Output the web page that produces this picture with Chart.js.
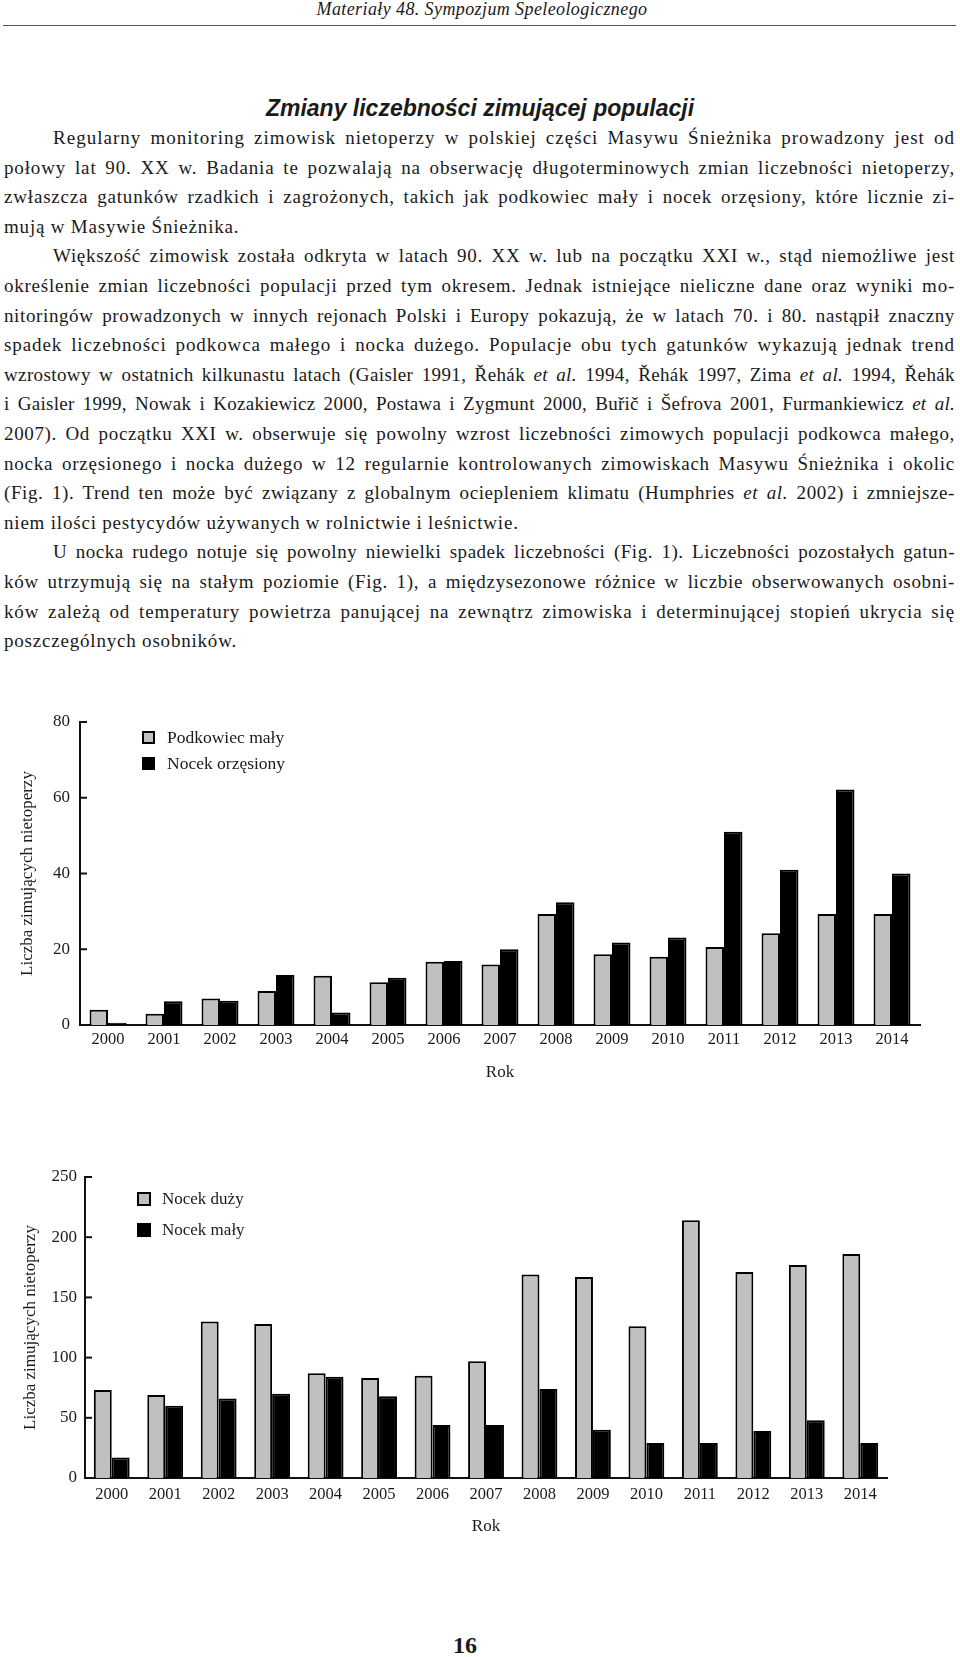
<!DOCTYPE html>
<html lang="pl">
<head>
<meta charset="utf-8">
<title>Zmiany liczebności zimującej populacji</title>
<script src="https://cdn.jsdelivr.net/npm/chart.js@4.4.0/dist/chart.umd.min.js"></script>
<style>
    body {
        margin: 0;
        width: 960px;
        height: 1657px;
        position: relative;
        overflow: hidden;
        background: #fff;
        color: #1a1a1a;
        font-family: "Liberation Serif", "DejaVu Serif", serif;
    }
    .naglowek {
        position: absolute; left: 0; top: 0; width: 964px;
        text-align: center; font-style: italic; font-size: 18px; line-height: 18px;
        letter-spacing: 0.4px;
    }
    .linia {
        position: absolute; left: 3px; top: 25px; width: 953px;
        border-top: 1.5px solid #555;
    }
    .tytul {
        position: absolute; left: 0; top: 94px; width: 960px;
        text-align: center; font-family: "Liberation Sans", Arial, sans-serif;
        font-weight: bold; font-style: italic; font-size: 23px; line-height: 28px;
    }
    .tekst {
        position: absolute; left: 4px; top: 123px; width: 951px;
        font-size: 19px; line-height: 29.6px; letter-spacing: 0.8px;
    }
    .tekst div { text-align: justify; text-align-last: justify; height: 29.6px; }
    .tekst div.wc { text-indent: 49px; }
    .tekst div.ost { text-align-last: left; }
    .wykres { position: absolute; left: 0; width: 960px; }
    .strona {
        position: absolute; left: 0; top: 1632px; width: 930px;
        text-align: center; font-weight: bold; font-size: 24px; line-height: 26px;
    }
</style>
</head>
<body>
<div class="naglowek">Materiały 48. Sympozjum Speleologicznego</div>
<div class="linia"></div>
<div class="tytul">Zmiany liczebności zimującej populacji</div>

<div class="tekst">
    <div class="wc">Regularny monitoring zimowisk nietoperzy w polskiej części Masywu Śnieżnika prowadzony jest od</div>
    <div>połowy lat 90. XX w. Badania te pozwalają na obserwację długoterminowych zmian liczebności nietoperzy,</div>
    <div>zwłaszcza gatunków rzadkich i zagrożonych, takich jak podkowiec mały i nocek orzęsiony, które licznie zi-</div>
    <div class="ost">mują w Masywie Śnieżnika.</div>
    <div class="wc">Większość zimowisk została odkryta w latach 90. XX w. lub na początku XXI w., stąd niemożliwe jest</div>
    <div>określenie zmian liczebności populacji przed tym okresem. Jednak istniejące nieliczne dane oraz wyniki mo-</div>
    <div>nitoringów prowadzonych w innych rejonach Polski i Europy pokazują, że w latach 70. i 80. nastąpił znaczny</div>
    <div>spadek liczebności podkowca małego i nocka dużego. Populacje obu tych gatunków wykazują jednak trend</div>
    <div>wzrostowy w ostatnich kilkunastu latach (Gaisler 1991, Řehák <i>et al.</i> 1994, Řehák 1997, Zima <i>et al.</i> 1994, Řehák</div>
    <div>i Gaisler 1999, Nowak i Kozakiewicz 2000, Postawa i Zygmunt 2000, Buřič i Šefrova 2001, Furmankiewicz <i>et al.</i></div>
    <div>2007). Od początku XXI w. obserwuje się powolny wzrost liczebności zimowych populacji podkowca małego,</div>
    <div>nocka orzęsionego i nocka dużego w 12 regularnie kontrolowanych zimowiskach Masywu Śnieżnika i okolic</div>
    <div>(Fig. 1). Trend ten może być związany z globalnym ociepleniem klimatu (Humphries <i>et al.</i> 2002) i zmniejsze-</div>
    <div class="ost">niem ilości pestycydów używanych w rolnictwie i leśnictwie.</div>
    <div class="wc">U nocka rudego notuje się powolny niewielki spadek liczebności (Fig. 1). Liczebności pozostałych gatun-</div>
    <div>ków utrzymują się na stałym poziomie (Fig. 1), a międzysezonowe różnice w liczbie obserwowanych osobni-</div>
    <div>ków zależą od temperatury powietrza panującej na zewnątrz zimowiska i determinującej stopień ukrycia się</div>
    <div class="ost">poszczególnych osobników.</div>
</div>

<div class="wykres" style="top:690px;height:410px;"><canvas id="wykres1"></canvas></div>
<div class="wykres" style="top:1150px;height:390px;"><canvas id="wykres2"></canvas></div>

<div class="strona">16</div>

<script>
const lata = ['2000', '2001', '2002', '2003', '2004', '2005', '2006', '2007',
    '2008', '2009', '2010', '2011', '2012', '2013', '2014'];

const podkowiecMaly = [4, 3, 7, 9, 13, 11.3, 16.7, 16, 29.3, 18.7, 18, 20.6, 24.2, 29.3, 29.3];
const nocekOrzesiony = [0.6, 6.3, 6.4, 13.2, 3.3, 12.5, 16.9, 20, 32.4, 21.8, 23.1, 51, 41, 62.2, 40];

const nocekDuzy = [73, 69, 130, 128, 87, 83, 85, 97, 169, 167, 126, 214, 171, 177, 186];
const nocekMaly = [17, 60, 66, 70, 84, 68, 44, 44, 74, 40, 29, 29, 39, 48, 29];

const ticksWykres1 = [0, 20, 40, 60, 80];
const ticksWykres2 = [0, 50, 100, 150, 200, 250];

const SZARY = '#c0c0c0';
const CZARNY = '#000000';
const FONT = '"Liberation Serif", "DejaVu Serif", serif';

// rozstrzelenie liter w wierszach, zeby odstepy miedzy wyrazami byly jak w druku
function dopasujWiersze() {
    document.querySelectorAll('.tekst div').forEach(div => {
        if (div.classList.contains('ost')) return;
        let span = div.querySelector(':scope > span.wiersz');
        if (!span) {
            span = document.createElement('span');
            span.className = 'wiersz';
            while (div.firstChild) span.appendChild(div.firstChild);
            div.appendChild(span);
        }
        // pomiar bez justowania
        div.style.textAlign = 'left';
        div.style.textAlignLast = 'left';
        div.style.letterSpacing = '0px';
        span.style.whiteSpace = 'nowrap';
        const szer = span.getBoundingClientRect().width;
        const tekst = span.textContent;
        const spacje = (tekst.match(/ /g) || []).length;
        const dostepne = 951 - (div.classList.contains('wc') ? 49 : 0) - 3;
        let ls = (dostepne - szer - spacje * 3) / tekst.length;
        ls = Math.max(0, Math.min(1.5, ls));
        span.style.whiteSpace = '';
        div.style.textAlign = '';
        div.style.textAlignLast = '';
        div.style.letterSpacing = ls.toFixed(2) + 'px';
    });
}
dopasujWiersze();
// drugi przebieg po zaladowaniu fontow
document.fonts.load('19px "Liberation Serif"')
    .then(() => document.fonts.load('italic 19px "Liberation Serif"'))
    .then(() => document.fonts.ready)
    .then(dopasujWiersze);

// kreski podzialki skierowane do wnetrza wykresu
const kreskiOsi = {
    id: 'kreskiOsi',
    afterDraw(chart) {
        const y = chart.scales.y;
        const ctx = chart.ctx;
        ctx.save();
        ctx.strokeStyle = '#111';
        ctx.lineWidth = 2;
        y.ticks.forEach(t => {
            const py = y.getPixelForValue(t.value);
            ctx.beginPath();
            ctx.moveTo(y.right, py);
            ctx.lineTo(y.right + 7, py);
            ctx.stroke();
        });
        ctx.restore();
    }
};

// legenda wewnatrz obszaru wykresu
const legendaWykresu = {
    id: 'legendaWykresu',
    afterDraw(chart, args, opts) {
        const ctx = chart.ctx;
        const area = chart.chartArea;
        ctx.save();
        ctx.font = opts.font;
        ctx.textBaseline = 'middle';
        chart.data.datasets.forEach((ds, i) => {
            const x = area.left + opts.dx;
            const y = area.top + opts.dy + i * opts.gap;
            ctx.fillStyle = ds.backgroundColor;
            ctx.fillRect(x, y, opts.box, opts.box);
            ctx.strokeStyle = '#000';
            ctx.lineWidth = 2;
            ctx.strokeRect(x + 1, y + 1, opts.box - 2, opts.box - 2);
            ctx.fillStyle = '#1a1a1a';
            ctx.fillText(ds.label, x + opts.box + opts.textGap, y + opts.box / 2 + 1);
        });
        ctx.restore();
    }
};

function zrobWykres(id, seriaA, seriaB, nazwaA, nazwaB, ticks, cfg) {
    return new Chart(document.getElementById(id), {
        type: 'bar',
        data: {
            labels: lata,
            datasets: [
                { label: nazwaA, data: seriaA, backgroundColor: SZARY, borderColor: CZARNY, borderWidth: 2 },
                { label: nazwaB, data: seriaB, backgroundColor: CZARNY, borderColor: CZARNY, borderWidth: 2 }
            ]
        },
        options: {
            responsive: true,
            maintainAspectRatio: false,
            animation: false,
            layout: { padding: { top: cfg.top, right: cfg.right, left: 0, bottom: 0 } },
            datasets: { bar: { categoryPercentage: cfg.catPct, barPercentage: 1.0 } },
            plugins: {
                legend: { display: false },
                tooltip: { enabled: false },
                legendaWykresu: cfg.legenda
            },
            scales: {
                x: {
                    afterFit: s => { s.height = cfg.xHeight; },
                    grid: { display: false, drawTicks: false },
                    border: { display: true, color: '#111', width: 2 },
                    ticks: { color: '#1a1a1a', padding: cfg.xPad, font: { family: FONT, size: 16.5 } },
                    title: {
                        display: true, text: 'Rok', color: '#1a1a1a',
                        font: { family: FONT, size: 17 },
                        padding: { top: 0, bottom: cfg.rokPad }
                    }
                },
                y: {
                    min: 0,
                    max: ticks[ticks.length - 1],
                    afterFit: s => { s.width = cfg.yWidth; },
                    afterBuildTicks: s => { s.ticks = ticks.map(v => ({ value: v })); },
                    grid: { display: false, drawTicks: false },
                    border: { display: true, color: '#111', width: 2 },
                    ticks: { color: '#1a1a1a', padding: cfg.yPad, font: { family: FONT, size: 17 } },
                    title: {
                        display: true, text: 'Liczba zimujących nietoperzy', color: '#1a1a1a',
                        font: { family: FONT, size: 17 },
                        padding: { top: cfg.tytulPad, bottom: 0 }
                    }
                }
            }
        },
        plugins: [kreskiOsi, legendaWykresu]
    });
}

zrobWykres('wykres1', podkowiecMaly, nocekOrzesiony, 'Podkowiec mały', 'Nocek orzęsiony', ticksWykres1, {
    top: 32, right: 40, catPct: 0.66, xHeight: 75, xPad: 5, rokPad: 17,
    yWidth: 80, yPad: 10, tytulPad: 17,
    legenda: { dx: 62, dy: 9, gap: 26, box: 13, textGap: 12, font: '17.5px ' + FONT }
});

zrobWykres('wykres2', nocekDuzy, nocekMaly, 'Nocek duży', 'Nocek mały', ticksWykres2, {
    top: 27, right: 73, catPct: 0.67, xHeight: 62, xPad: 7, rokPad: 3,
    yWidth: 85, yPad: 8, tytulPad: 20,
    legenda: { dx: 52, dy: 15, gap: 31, box: 14, textGap: 11, font: '17px ' + FONT }
});
</script>
</body>
</html>
